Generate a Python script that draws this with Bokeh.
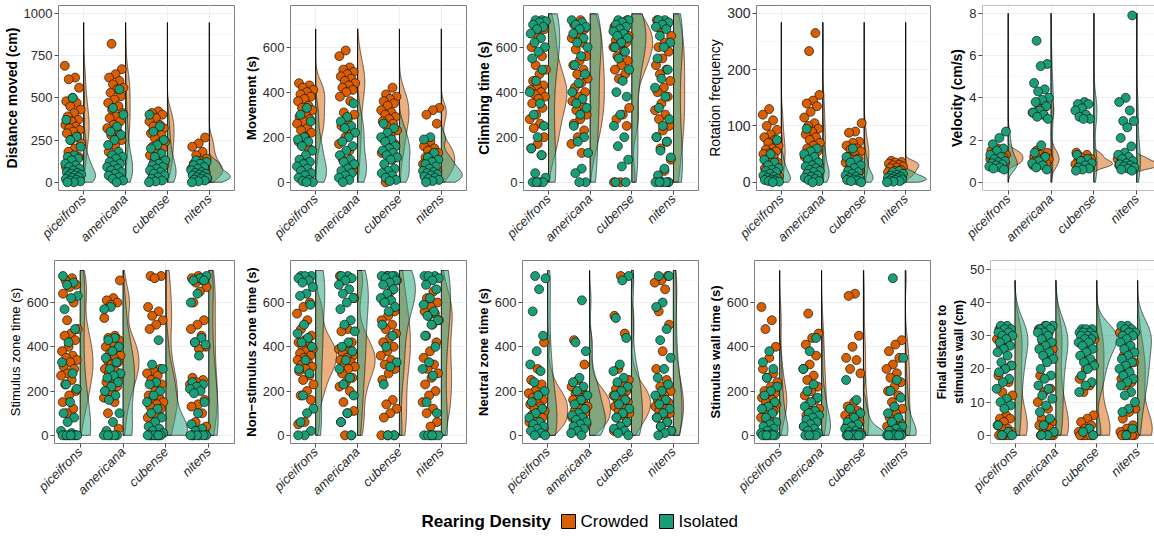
import numpy as np
from bokeh.plotting import figure
from bokeh.layouts import column, row
from bokeh.models import Range1d, FixedTicker, Span
from bokeh.core.properties import value
from bokeh.embed import file_html
from bokeh.resources import INLINE

species = ["piceifrons", "americana", "cubense", "nitens"]
groups = ["Crowded", "Isolated"]
legend_title = "Rearing Density"

# ---------- data (one list per species, order as in `species`) ----------
distance_crowded = [
    [690, 620, 610, 560, 500, 480, 470, 450, 430, 410, 390, 370, 360, 340, 330, 320, 310, 300, 290, 270, 250, 230, 200, 180, 150, 120, 90],
    [820, 670, 640, 620, 600, 580, 560, 550, 530, 510, 490, 470, 450, 430, 410, 390, 380, 360, 340, 320, 300, 280, 250, 220, 180, 150],
    [420, 410, 400, 380, 360, 340, 330, 320, 300, 290, 280, 260, 240, 230, 210, 200, 180, 160, 140, 120, 100, 80, 60],
    [265, 230, 210, 180, 160, 140, 125, 110, 100, 90, 80, 75, 70, 60, 55, 50, 40, 30, 20],
]
distance_isolated = [
    [500, 370, 270, 250, 210, 160, 150, 140, 130, 110, 100, 90, 80, 70, 60, 55, 50, 45, 40, 35, 30, 25, 20, 15, 10, 5, 0, 0],
    [550, 440, 400, 330, 300, 280, 250, 220, 180, 160, 150, 140, 120, 110, 100, 90, 80, 70, 60, 50, 40, 30, 20, 10, 0],
    [400, 330, 300, 250, 220, 200, 170, 150, 130, 110, 100, 90, 80, 70, 60, 50, 40, 30, 20, 10, 5, 0],
    [130, 120, 110, 100, 90, 80, 70, 60, 55, 50, 45, 40, 35, 30, 25, 20, 15, 10, 5, 0],
]
movement_crowded = [
    [440, 430, 420, 410, 400, 390, 380, 370, 360, 340, 330, 320, 300, 290, 280, 270, 260, 240, 230, 220, 200, 180, 150, 100],
    [585, 560, 510, 500, 490, 480, 470, 460, 450, 440, 430, 420, 410, 400, 380, 360, 310, 300, 280, 250, 220, 200, 170, 140, 100, 50],
    [420, 390, 380, 370, 360, 350, 340, 320, 310, 300, 290, 280, 270, 260, 250, 230, 210, 190, 170, 150, 130, 100, 0],
    [330, 320, 300, 260, 180, 160, 150, 140, 130, 120, 110, 100, 90, 80, 70, 60, 50, 40, 30],
]
movement_isolated = [
    [330, 300, 270, 200, 190, 180, 160, 140, 120, 100, 90, 80, 70, 60, 50, 40, 30, 20, 10, 5, 0, 0],
    [350, 290, 270, 250, 240, 220, 200, 180, 160, 140, 120, 100, 90, 80, 60, 50, 40, 30, 20, 10, 0],
    [260, 240, 220, 200, 190, 180, 160, 150, 140, 130, 120, 110, 100, 80, 60, 50, 40, 30, 20, 10, 5],
    [200, 190, 130, 110, 100, 90, 80, 70, 60, 50, 45, 40, 35, 30, 25, 20, 15, 10, 5, 0],
]
climbing_crowded = [
    [700, 680, 650, 600, 560, 520, 500, 480, 450, 430, 420, 410, 400, 390, 380, 370, 350, 330, 300, 280, 260, 240, 200, 170, 150, 120],
    [720, 700, 680, 660, 640, 620, 590, 560, 540, 520, 500, 480, 460, 440, 420, 400, 380, 360, 340, 320, 300, 280, 260, 230, 200, 170, 130],
    [720, 700, 690, 680, 670, 650, 640, 630, 620, 610, 600, 580, 560, 540, 520, 500, 480, 460, 330, 300, 280, 250, 0, 0],
    [720, 700, 680, 650, 620, 600, 580, 550, 520, 500, 480, 450, 420, 400, 380, 350, 320, 300, 280, 250, 230, 200, 180, 150, 100, 50, 10, 0],
]
climbing_isolated = [
    [720, 720, 715, 710, 700, 690, 680, 660, 640, 620, 600, 580, 550, 500, 450, 400, 350, 300, 250, 200, 150, 120, 40, 20, 0, 0, 0, 0],
    [720, 710, 700, 690, 680, 660, 640, 620, 600, 560, 520, 480, 440, 400, 370, 350, 330, 300, 250, 200, 180, 130, 60, 40, 0, 0],
    [720, 720, 710, 700, 690, 680, 670, 660, 650, 640, 620, 600, 580, 550, 500, 450, 400, 380, 300, 250, 200, 160, 100, 70, 0, 0],
    [720, 720, 710, 700, 690, 680, 650, 620, 600, 550, 500, 460, 420, 380, 330, 280, 250, 200, 180, 140, 110, 60, 30, 0, 0, 0, 0, 0],
]
rotation_crowded = [
    [130, 120, 110, 100, 93, 85, 80, 75, 70, 65, 60, 58, 55, 52, 50, 45, 40, 35, 30, 25, 20, 15, 10],
    [265, 233, 155, 145, 140, 135, 125, 115, 105, 100, 95, 90, 85, 80, 75, 70, 65, 60, 55, 50, 45, 40, 35, 30, 20],
    [105, 90, 88, 72, 70, 65, 60, 58, 55, 50, 45, 42, 40, 35, 30, 25, 20, 15, 10],
    [38, 36, 35, 33, 31, 30, 28, 26, 25, 22, 20, 18, 15, 12, 10],
]
rotation_isolated = [
    [75, 50, 40, 35, 30, 25, 22, 20, 18, 15, 12, 10, 8, 6, 5, 4, 3, 2, 1, 0],
    [95, 60, 55, 50, 45, 40, 35, 30, 28, 25, 22, 20, 18, 15, 12, 10, 8, 6, 4, 2, 0],
    [60, 45, 40, 35, 30, 25, 20, 18, 15, 12, 10, 8, 6, 5, 4, 3, 2, 0],
    [20, 18, 15, 13, 12, 10, 9, 8, 7, 6, 5, 4, 3, 2, 1, 0],
]
velocity_crowded = [
    [1.6, 1.5, 1.4, 1.4, 1.3, 1.3, 1.2, 1.2, 1.1, 1.1, 1.0, 1.0, 0.9, 0.9, 0.8],
    [3.6, 3.5, 3.3, 3.2, 1.5, 1.4, 1.3, 1.2, 1.2, 1.1, 1.1, 1.0, 1.0, 0.9, 0.9, 0.8],
    [1.4, 1.3, 1.2, 1.1, 1.0, 1.0, 0.9, 0.9, 0.85, 0.8, 0.75, 0.7],
    [1.2, 1.1, 1.0, 0.95, 0.9, 0.85, 0.8, 0.75, 0.7, 0.65],
]
velocity_isolated = [
    [2.4, 2.1, 1.8, 1.6, 1.5, 1.3, 1.2, 1.1, 1.0, 0.95, 0.9, 0.85, 0.8, 0.75, 0.7, 0.65, 0.6],
    [6.7, 5.6, 5.5, 4.7, 4.4, 4.3, 4.0, 3.9, 3.8, 3.6, 3.4, 3.3, 3.2, 3.1, 3.0, 1.75, 1.4, 1.2, 1.0, 0.9, 0.8, 0.7, 0.6],
    [3.8, 3.7, 3.7, 3.5, 3.4, 3.2, 3.1, 3.0, 3.0, 1.3, 1.1, 1.0, 0.9, 0.8, 0.7, 0.65, 0.6, 0.55],
    [7.9, 4.0, 3.8, 3.4, 2.9, 2.9, 2.6, 2.1, 1.7, 1.4, 1.3, 1.2, 1.1, 1.0, 0.9, 0.85, 0.8, 0.75, 0.7, 0.65, 0.6, 0.55],
]
stimzone_crowded = [
    [710, 700, 680, 670, 640, 600, 520, 480, 460, 450, 430, 400, 380, 360, 350, 340, 330, 310, 300, 280, 270, 250, 230, 200, 180, 150, 120, 100],
    [700, 620, 610, 600, 590, 530, 450, 440, 430, 420, 400, 380, 370, 360, 350, 340, 330, 320, 300, 290, 280, 270, 260, 240, 220, 200, 170, 150, 100, 30],
    [720, 720, 710, 580, 560, 540, 520, 500, 480, 300, 290, 280, 270, 250, 230, 200, 180, 170, 160, 150, 140, 130, 120, 100, 80, 0, 0],
    [720, 710, 700, 690, 670, 650, 600, 520, 500, 480, 450, 420, 400, 390, 260, 250, 240, 230, 220, 200, 160, 140, 130, 100, 60, 40, 20, 0],
]
stimzone_isolated = [
    [720, 690, 680, 630, 620, 570, 480, 420, 330, 280, 230, 210, 150, 100, 80, 60, 20, 10, 0, 0, 0, 0, 0, 0, 0, 0],
    [580, 570, 440, 430, 400, 380, 350, 330, 300, 280, 270, 260, 240, 220, 200, 180, 160, 100, 60, 20, 0, 0, 0, 0, 0],
    [430, 320, 300, 240, 230, 200, 180, 150, 120, 100, 80, 60, 40, 30, 20, 10, 0, 0, 0, 0, 0, 0],
    [720, 710, 700, 700, 640, 600, 440, 420, 410, 360, 240, 230, 220, 210, 200, 190, 150, 100, 50, 30, 20, 0, 0, 0, 0, 0, 0],
]
nonstim_crowded = [
    [600, 580, 550, 520, 480, 450, 430, 420, 410, 400, 390, 380, 370, 360, 350, 340, 330, 320, 310, 300, 290, 270, 250, 230, 200, 180, 160, 60, 50],
    [720, 710, 700, 620, 480, 470, 420, 400, 390, 380, 370, 360, 350, 340, 330, 320, 310, 300, 280, 260, 240, 220, 200, 150, 110, 100, 60, 0, 0],
    [720, 700, 650, 600, 560, 540, 520, 500, 480, 460, 440, 420, 400, 380, 360, 340, 320, 300, 280, 250, 160, 140, 120, 100, 80, 0, 0, 0],
    [650, 620, 600, 580, 560, 550, 540, 520, 500, 450, 420, 380, 350, 320, 300, 280, 260, 230, 200, 180, 150, 120, 100, 60, 40],
]
nonstim_isolated = [
    [720, 720, 720, 710, 700, 690, 670, 640, 630, 590, 500, 460, 440, 420, 400, 340, 300, 280, 180, 120, 100, 60, 20, 0, 0],
    [720, 720, 710, 700, 680, 660, 640, 620, 600, 570, 520, 500, 470, 420, 400, 380, 340, 300, 260, 230, 180, 100, 60, 0],
    [720, 720, 720, 720, 710, 700, 690, 680, 660, 640, 620, 610, 600, 580, 560, 500, 450, 400, 330, 310, 230, 0, 0],
    [720, 720, 720, 710, 700, 680, 660, 620, 590, 560, 540, 520, 500, 450, 400, 330, 300, 270, 150, 100, 0, 0, 0, 0, 0, 0],
]
neutral_crowded = [
    [420, 300, 250, 230, 200, 190, 180, 170, 160, 150, 140, 130, 120, 110, 100, 90, 80, 70, 60, 50, 40, 30, 20],
    [430, 320, 250, 220, 200, 190, 180, 170, 160, 150, 140, 130, 120, 110, 100, 90, 80, 70, 60, 50, 40, 30],
    [720, 540, 460, 300, 250, 230, 210, 200, 190, 180, 170, 160, 150, 140, 130, 120, 110, 100, 90, 80, 60, 40, 20],
    [720, 700, 690, 660, 560, 500, 380, 300, 250, 220, 200, 180, 160, 150, 140, 130, 120, 110, 100, 90, 80, 60, 40, 20],
]
neutral_isolated = [
    [720, 710, 660, 560, 450, 380, 320, 290, 240, 200, 180, 150, 120, 100, 80, 60, 50, 40, 30, 20, 10, 0, 0],
    [610, 420, 380, 260, 240, 220, 200, 180, 160, 140, 120, 100, 90, 80, 70, 60, 50, 40, 30, 20, 10, 0],
    [720, 700, 530, 440, 320, 290, 260, 240, 220, 200, 180, 160, 140, 120, 100, 80, 60, 40, 30, 20, 10, 0],
    [720, 720, 600, 580, 480, 430, 350, 300, 260, 230, 200, 180, 160, 140, 120, 100, 80, 60, 40, 20, 10, 0],
]
wall_crowded = [
    [580, 520, 480, 400, 350, 300, 280, 260, 240, 220, 200, 190, 180, 170, 160, 150, 140, 130, 120, 110, 100, 80, 60, 40],
    [550, 460, 440, 410, 360, 320, 300, 270, 250, 220, 200, 180, 160, 140, 120, 100, 90, 80, 60, 40, 20, 0],
    [640, 630, 450, 400, 350, 340, 300, 280, 150, 130, 110, 100, 90, 80, 70, 60, 50, 40, 30, 20, 10, 0, 0],
    [430, 410, 380, 350, 320, 300, 280, 260, 240, 220, 200, 180, 150, 120, 100, 80, 60, 50, 40, 30, 20, 10, 0],
]
wall_isolated = [
    [380, 330, 300, 260, 220, 200, 180, 150, 130, 120, 100, 80, 60, 50, 40, 30, 20, 10, 5, 0, 0, 0, 0, 0, 0],
    [440, 380, 300, 230, 200, 170, 150, 130, 110, 100, 90, 80, 70, 60, 50, 40, 30, 20, 10, 0, 0, 0, 0],
    [250, 160, 120, 100, 80, 60, 50, 40, 30, 20, 15, 10, 5, 0, 0, 0, 0, 0, 0, 0],
    [710, 350, 250, 200, 170, 130, 100, 80, 60, 40, 30, 20, 10, 5, 0, 0, 0, 0, 0, 0, 0],
]
final_crowded = [
    [32, 31, 30, 29, 28, 27, 21, 20, 18, 16, 13, 12, 6, 5, 5, 4, 3, 2, 2, 1, 0, 0, 0, 0],
    [33, 32, 31, 28, 26, 23, 18, 14, 13, 10, 8, 5, 4, 3, 3, 2, 1, 0, 0, 0, 0],
    [31, 30, 29, 26, 24, 22, 20, 17, 15, 13, 6, 5, 4, 3, 2, 1, 1, 0, 0, 0, 0, 0],
    [31, 27, 24, 22, 20, 17, 16, 15, 8, 7, 5, 3, 2, 1, 1, 0, 0, 0, 0, 0],
]
final_isolated = [
    [33, 33, 32, 32, 31, 31, 30, 30, 29, 28, 27, 26, 25, 24, 22, 21, 20, 19, 17, 16, 14, 11, 10, 9, 8, 3, 1, 0, 0],
    [33, 33, 32, 32, 31, 31, 30, 29, 28, 27, 26, 25, 24, 23, 22, 20, 18, 17, 15, 14, 12, 11, 9, 7, 5, 3, 1, 0, 0],
    [32, 32, 32, 31, 31, 31, 30, 30, 30, 29, 29, 28, 28, 27, 26, 25, 24, 23, 22, 21, 20, 18, 16, 15, 13, 2, 1, 0],
    [33, 33, 32, 32, 31, 31, 30, 30, 29, 28, 27, 26, 25, 24, 23, 22, 21, 20, 19, 18, 17, 16, 15, 13, 12, 10, 8, 7, 2, 0],
]

panel_titles = ["Distance moved (cm)", "Movement (s)", "Climbing time (s)", "Rotation frequency",
                "Velocity (cm/s)", "Stimulus zone time (s)", "Non\u2212stimulus zone time (s)",
                "Neutral zone time (s)", "Stimulus wall time (s)", "Final distance to\nstimulus wall (cm)"]
panel_crowded = [distance_crowded, movement_crowded, climbing_crowded, rotation_crowded, velocity_crowded,
                 stimzone_crowded, nonstim_crowded, neutral_crowded, wall_crowded, final_crowded]
panel_isolated = [distance_isolated, movement_isolated, climbing_isolated, rotation_isolated, velocity_isolated,
                  stimzone_isolated, nonstim_isolated, neutral_isolated, wall_isolated, final_isolated]
panel_ticks = [[0, 250, 500, 750, 1000], [0, 200, 400, 600], [0, 200, 400, 600], [0, 100, 200, 300],
               [0, 2, 4, 6, 8], [0, 200, 400, 600], [0, 200, 400, 600], [0, 200, 400, 600],
               [0, 200, 400, 600], [0, 10, 20, 30, 40, 50]]
panel_yrange = [(-49, 1047), (-37, 785), (-37, 785), (-14.7, 314), (-0.39, 8.37),
                (-37, 790), (-37, 790), (-37, 790), (-37, 790), (-2.5, 52.7)]
panel_violin_top = [946, 681, 748, 284, 8.0, 745, 745, 745, 745, 46.7]

# ---------- style ----------
CROWDED = "#D95F02"
ISOLATED = "#1B9E77"
FONT = "Liberation Sans"
FRAME = "#7f7f7f"
GRID = "#EFEFEF"
GRID_MINOR = "#F7F7F7"
HALF = 0.5
GOLD = 0.6180339887

title_style = [(14, "bold"), (13, "bold"), (14, "bold"), (14, "normal"), (14, "bold"),
               (13, "normal"), (13, "bold"), (13, "bold"), (13, "bold"), (12, "bold")]
tick_size = [13, 13, 13, 14, 13, 13, 13, 13, 13, 13]


def kde(vals, grid):
    x = np.asarray(vals, float)
    n = len(x)
    sd = x.std(ddof=1)
    q75, q25 = np.percentile(x, [75, 25])
    lo = min(sd, (q75 - q25) / 1.34)
    if lo <= 0:
        lo = sd if sd > 0 else 1.0
    bw = 0.9 * lo * n ** -0.2
    z = (grid[:, None] - x[None, :]) / bw
    return np.exp(-0.5 * z * z).sum(axis=1) / (n * bw * np.sqrt(2 * np.pi))


def make_panel(i, width, height, bl, br, bt, bb, x_end, cut):
    y0, y1 = panel_yrange[i]
    p = figure(width=width, height=height, x_range=Range1d(0.4, x_end), y_range=Range1d(y0, y1),
               output_backend="svg", toolbar_location=None,
               min_border_left=bl, min_border_right=br, min_border_top=bt, min_border_bottom=bb)
    p.background_fill_color = "white"
    p.border_fill_color = "white"
    if cut:
        p.outline_line_color = None
        p.add_layout(Span(location=y1, dimension="width", line_color=FRAME, line_width=1))
        p.add_layout(Span(location=y0, dimension="width", line_color=FRAME, line_width=1))
        p.add_layout(Span(location=0.4, dimension="height", line_color=FRAME, line_width=1))
    else:
        p.outline_line_color = FRAME
        p.outline_line_width = 1

    ticks = panel_ticks[i]
    step = ticks[1] - ticks[0]
    minors = [t + step / 2 for t in ticks if y0 < t + step / 2 < y1]
    yt = FixedTicker(ticks=ticks, minor_ticks=minors)
    xt = FixedTicker(ticks=[1, 2, 3, 4])
    p.yaxis.ticker = yt
    p.xaxis.ticker = xt
    p.ygrid.ticker = yt
    p.xgrid.ticker = xt
    p.xgrid.grid_line_color = GRID
    p.ygrid.grid_line_color = GRID
    p.ygrid.minor_grid_line_color = GRID_MINOR
    p.xaxis.major_label_overrides = {k + 1: s for k, s in enumerate(species)}

    for ax in (p.xaxis[0], p.yaxis[0]):
        ax.axis_line_color = None
        ax.major_tick_line_color = "#4d4d4d"
        ax.major_tick_out = 4
        ax.major_tick_in = 0
        ax.minor_tick_line_color = None
        ax.major_label_text_font = FONT
        ax.major_label_text_color = "#2b2b2b"
        ax.major_label_standoff = 2
    p.yaxis.major_label_text_font_size = f"{tick_size[i]}px"
    p.xaxis.major_label_text_font_size = "13px"
    p.xaxis.major_label_text_font_style = "italic"
    p.xaxis.major_label_orientation = np.pi / 4
    size, style = title_style[i]
    p.yaxis.axis_label = panel_titles[i]
    p.yaxis.axis_label_text_font = FONT
    p.yaxis.axis_label_text_font_size = f"{size}px"
    p.yaxis.axis_label_text_font_style = style
    p.yaxis.axis_label_text_color = "black"
    p.yaxis.axis_label_standoff = 1

    # half violins
    grid = np.linspace(0, panel_violin_top[i], 300)
    dens_c = [kde(v, grid) for v in panel_crowded[i]]
    dens_i = [kde(v, grid) for v in panel_isolated[i]]
    dmax = max(d.max() for d in dens_c + dens_i)
    for dens, color in ((dens_c, CROWDED), (dens_i, ISOLATED)):
        xs, ys = [], []
        for k, d in enumerate(dens):
            base = k + 1
            xs.append(list(np.concatenate([[base], base + HALF * d / dmax, [base]])))
            ys.append(list(np.concatenate([[0], grid, [grid[-1]]])))
        p.patches(xs, ys, fill_color=color, fill_alpha=0.5, line_color="black", line_width=0.6)

    # jittered points
    for g, (data, color) in enumerate(((panel_crowded[i], CROWDED), (panel_isolated[i], ISOLATED))):
        xs, ys = [], []
        for k, vals in enumerate(data):
            for j, v in enumerate(vals):
                frac = (j * GOLD + 0.29 * k + 0.47 * g + 0.13 * i) % 1.0
                xs.append(k + 1 - 0.45 + 0.4 * frac)
                ys.append(v)
        p.scatter(xs, ys, size=9, fill_color=color, line_color="black", line_width=0.6)
    return p


widths = [240, 232, 232, 228, 222]
right_b = [6, 6, 6, 2, 0]
left_row1 = [55, 47, 46, 46, 50]
left_row2 = [54, 47, 46, 46, 50]
x_ends = [4.6, 4.6, 4.6, 4.6, 0.4 + 172 / 42.86]

row1 = [make_panel(c, widths[c], 254, left_row1[c], right_b[c], 5, 64, x_ends[c], c == 4) for c in range(5)]
row2 = [make_panel(5 + c, widths[c], 252, left_row2[c], right_b[c], 6, 60, x_ends[c], c == 4) for c in range(5)]

leg = figure(width=1154, height=30, x_range=Range1d(0, 1154), y_range=Range1d(0, 30),
             output_backend="svg", toolbar_location=None, min_border=0,
             x_axis_location=None, y_axis_location=None)
leg.outline_line_color = None
leg.grid.visible = False
leg.text(x=[421], y=[15], text=[legend_title], text_font=value(FONT), text_font_size="17px",
         text_font_style="bold", text_baseline="middle", text_color="black")
leg.rect(x=[568, 666], y=[15, 15], width=14, height=14, fill_color=[CROWDED, ISOLATED],
         line_color="black", line_width=1)
leg.text(x=[580, 678], y=[15, 15], text=groups, text_font=value(FONT), text_font_size="17px",
         text_baseline="middle", text_color="black")

layout = column(row(*row1), row(*row2), leg)
open("out.html", "w").write(file_html(layout, INLINE))
